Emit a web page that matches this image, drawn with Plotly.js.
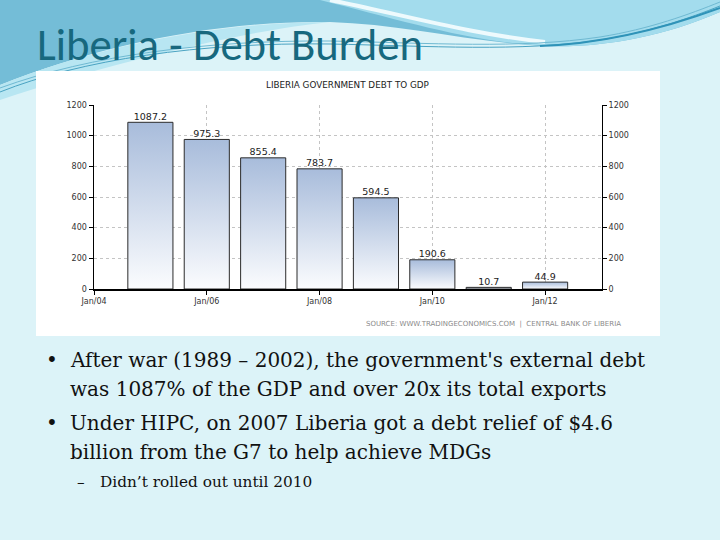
<!DOCTYPE html>
<html>
<head>
<meta charset="utf-8">
<script src="https://cdn.plot.ly/plotly-3.0.1.min.js"></script>
<style>html,body{margin:0;padding:0;background:#dcf3f8;}#chart{width:720px;height:540px;}</style>
</head>
<body>
<div id="chart"></div>
<script>
// ---- data ----
const years = [2005, 2006, 2007, 2008, 2009, 2010, 2011, 2012];
const debtToGdp = [1087.2, 975.3, 855.4, 783.7, 594.5, 190.6, 10.7, 44.9];
const tickYears = [2004, 2006, 2008, 2010, 2012];
const tickLabels = ["Jan/04", "Jan/06", "Jan/08", "Jan/10", "Jan/12"];
const chartTitle = "LIBERIA GOVERNMENT DEBT TO GDP";
const sourceText = "SOURCE: WWW.TRADINGECONOMICS.COM  |  CENTRAL BANK OF LIBERIA";
const slideTitle = "Liberia - Debt Burden";
const bullets = [
  "After war (1989 – 2002), the government's external debt",
  "was 1087% of the GDP and over 20x its total exports",
  "Under HIPC, on 2007 Liberia got a debt relief of $4.6",
  "billion from the G7 to help achieve MDGs"
];
const subBullet = "Didn’t rolled out until 2010";

// ---- helpers (pixel -> paper) ----
const W = 720, H = 540;
const px = x => x / W;
const py = y => 1 - y / H;
function pathPx(cmds) {
  return cmds.replace(/(-?\d+(?:\.\d+)?),(-?\d+(?:\.\d+)?)/g, (m, a, b) =>
    (px(parseFloat(a))).toFixed(5) + ',' + (py(parseFloat(b))).toFixed(5));
}

const barHalf = 0.4;
const traces = [];
years.forEach((yr, i) => {
  const v = debtToGdp[i];
  traces.push({
    type: 'scatter', mode: 'lines',
    x: [yr - barHalf, yr - barHalf, yr + barHalf, yr + barHalf, yr - barHalf],
    y: [0, v, v, 0, 0],
    fill: 'toself',
    fillgradient: {type: 'vertical', start: 0, stop: v,
      colorscale: [[0, '#fbfcfe'], [1, '#a8bcdb']]},
    line: {color: '#2b2b2b', width: 1},
    hoverinfo: 'skip', showlegend: false
  });
});
traces.push({
  type: 'scatter', mode: 'text',
  x: years, y: debtToGdp,
  text: debtToGdp.map(v => v.toFixed(1)),
  textposition: 'top center',
  textfont: {family: 'DejaVu Sans, Verdana, sans-serif', size: 9.5, color: '#222'},
  cliponaxis: false, hoverinfo: 'skip', showlegend: false
});
traces.push({
  type: 'scatter', mode: 'markers', yaxis: 'y2',
  x: years, y: debtToGdp, marker: {opacity: 0}, hoverinfo: 'skip', showlegend: false
});

const axFont = {family: 'DejaVu Sans, Verdana, sans-serif', size: 8, color: '#333'};
const layout = {
  width: W, height: H, autosize: false,
  margin: {l: 0, r: 0, t: 0, b: 0},
  paper_bgcolor: '#dcf3f8', plot_bgcolor: 'rgba(0,0,0,0)',
  showlegend: false,
  xaxis: {
    domain: [px(94), px(601.5)], range: [2004, 2013],
    tickvals: tickYears, ticktext: tickLabels,
    ticks: 'outside', ticklen: 4, tickcolor: '#000',
    showline: true, linecolor: '#000', linewidth: 1.5,
    showgrid: true, gridcolor: '#c4c4c4', griddash: 'dot', gridwidth: 1,
    zeroline: false, tickfont: axFont, fixedrange: true
  },
  yaxis: {
    domain: [py(289), py(105)], range: [0, 1200], dtick: 200,
    ticks: 'outside', ticklen: 4, tickcolor: '#000',
    showline: true, linecolor: '#000', linewidth: 1.5,
    showgrid: true, gridcolor: '#c4c4c4', griddash: 'dot', gridwidth: 1,
    zeroline: false, tickfont: axFont, fixedrange: true
  },
  yaxis2: {
    overlaying: 'y', side: 'right', anchor: 'x', range: [0, 1200], dtick: 200,
    ticks: 'outside', ticklen: 4, tickcolor: '#000',
    showline: true, linecolor: '#000', linewidth: 1.5,
    showgrid: false, zeroline: false, tickfont: axFont, fixedrange: true
  },
  shapes: [
    {type: 'path', xref: 'paper', yref: 'paper', layer: 'below', line: {width: 0},
     fillcolor: '#74bdd7',
     path: pathPx('M 0,0 L 720,0 L 720,12 C 660,38 600,48 545,46 C 470,42 400,24 330,22 C 220,20 100,45 0,85 Z')},
    {type: 'path', xref: 'paper', yref: 'paper', layer: 'below', line: {width: 0},
     fillcolor: '#a3dced',
     path: pathPx('M 320,0 L 720,0 L 720,12 C 660,38 600,48 545,46 C 470,42 400,20 320,0 Z')},
    {type: 'path', xref: 'paper', yref: 'paper', layer: 'below', line: {color: '#eefafd', width: 4},
     path: pathPx('M 330,0 C 400,14 470,34 545,42')},
    {type: 'path', xref: 'paper', yref: 'paper', layer: 'below', line: {width: 0},
     fillcolor: '#b8e6f2',
     path: pathPx('M 0,85 C 100,45 220,22 330,22 C 250,30 120,60 0,100 Z')},
    {type: 'path', xref: 'paper', yref: 'paper', layer: 'below', line: {color: '#4aa3c2', width: 1},
     path: pathPx('M 0,92 C 80,60 200,42 330,44 C 430,46 520,52 600,40 C 650,32 690,18 720,6')},
    {type: 'path', xref: 'paper', yref: 'paper', layer: 'below', line: {color: '#6fb9d2', width: 1},
     path: pathPx('M 0,88 C 90,55 210,40 330,41 C 430,43 520,49 600,37 C 650,29 690,14 720,2')},
    {type: 'path', xref: 'paper', yref: 'paper', layer: 'below', line: {color: '#2f93b8', width: 2},
     path: pathPx('M 540,46 C 600,44 660,30 720,8')},
    {type: 'rect', xref: 'paper', yref: 'paper', layer: 'below', line: {width: 0},
     fillcolor: '#ffffff', x0: px(36), x1: px(660), y0: py(336), y1: py(71)}
  ],
  annotations: [
    {xref: 'paper', yref: 'paper', x: px(35), y: py(44), xanchor: 'left', yanchor: 'middle',
     text: slideTitle, showarrow: false,
     font: {family: 'Carlito, Lato, sans-serif', size: 44.7, color: '#17687e'}},
    {xref: 'paper', yref: 'paper', x: px(347), y: py(85), xanchor: 'center', yanchor: 'middle',
     text: chartTitle, showarrow: false,
     font: {family: 'DejaVu Sans, Verdana, sans-serif', size: 8.8, color: '#222'}},
    {xref: 'paper', yref: 'paper', x: px(623), y: py(324), xanchor: 'right', yanchor: 'middle',
     text: sourceText, showarrow: false,
     font: {family: 'DejaVu Sans, Verdana, sans-serif', size: 7, color: '#8a8a8a'}}
  ]
};

const bodyFont = {family: 'DejaVu Serif, serif', size: 20, color: '#111'};
const subFont = {family: 'DejaVu Serif, serif', size: 15.3, color: '#111'};
const lineYs = [360, 389, 423, 452];
bullets.forEach((t, i) => {
  layout.annotations.push({xref: 'paper', yref: 'paper', x: px(68), y: py(lineYs[i]),
    xanchor: 'left', yanchor: 'middle', text: t, showarrow: false, font: bodyFont});
});
[0, 2].forEach(i => {
  layout.annotations.push({xref: 'paper', yref: 'paper', x: px(44), y: py(lineYs[i]),
    xanchor: 'left', yanchor: 'middle', text: '•', showarrow: false, font: bodyFont});
});
layout.annotations.push({xref: 'paper', yref: 'paper', x: px(75), y: py(482),
  xanchor: 'left', yanchor: 'middle', text: '–', showarrow: false, font: subFont});
layout.annotations.push({xref: 'paper', yref: 'paper', x: px(98), y: py(482),
  xanchor: 'left', yanchor: 'middle', text: subBullet, showarrow: false, font: subFont});

Plotly.newPlot('chart', traces, layout, {displayModeBar: false, staticPlot: true});
</script>
</body>
</html>
